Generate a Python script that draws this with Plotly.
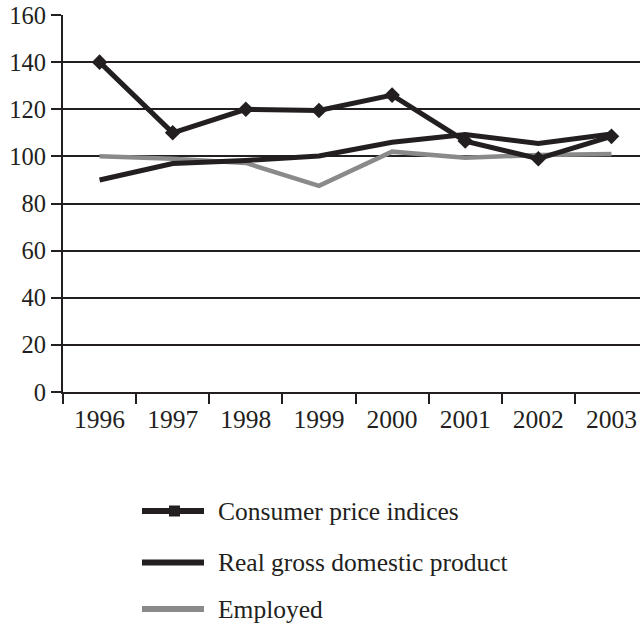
import plotly.graph_objects as go

years = ["1996", "1997", "1998", "1999", "2000", "2001", "2002", "2003"]
cpi = [140, 110, 120, 119.5, 126, 106.5, 99, 108.5]
gdp = [90, 97, 98.3, 100.2, 106, 109.3, 105.5, 109.5]
employed = [100, 99, 97.2, 87.5, 102, 99.4, 100.6, 101]

DARK = "#231f20"
GRAY = "#8a8a8a"
FONT = "Liberation Serif"

fig = go.Figure()
fig.add_trace(go.Scatter(x=years, y=employed, mode="lines",
                         line=dict(color=GRAY, width=4.5), name="Employed"))
fig.add_trace(go.Scatter(x=years, y=gdp, mode="lines",
                         line=dict(color=DARK, width=5), name="Real gross domestic product"))
fig.add_trace(go.Scatter(x=years, y=cpi, mode="lines+markers",
                         line=dict(color=DARK, width=5),
                         marker=dict(symbol="diamond", size=12, color=DARK),
                         name="Consumer price indices"))

L, T, B = 63, 15, 234
W, H = 640, 626
pw = W - L
ph = H - T - B

def px(x):
    return (x - L) / pw

def py(y):
    return (H - B - y) / ph

legend_items = [
    ("Consumer price indices", DARK, 511, True),
    ("Real gross domestic product", DARK, 562.5, False),
    ("Employed", GRAY, 609, False),
]
shapes = []
annotations = []
for text, color, yy, marker in legend_items:
    shapes.append(dict(type="line", xref="paper", yref="paper",
                       x0=px(142), x1=px(204), y0=py(yy), y1=py(yy),
                       line=dict(color=color, width=6)))
    if marker:
        shapes.append(dict(type="rect", xref="paper", yref="paper",
                           x0=px(169), x1=px(180), y0=py(yy + 5.5), y1=py(yy - 5.5),
                           fillcolor=color, line=dict(width=0)))
    annotations.append(dict(text=text, xref="paper", yref="paper",
                            x=px(216), y=py(yy), xanchor="left", yanchor="middle",
                            showarrow=False, font=dict(family=FONT, size=25.5, color="#231f20")))

fig.update_layout(
    width=W, height=H,
    margin=dict(l=L, r=0, t=T, b=B),
    paper_bgcolor="white", plot_bgcolor="white",
    showlegend=False,
    font=dict(family=FONT, size=24, color="#231f20"),
    shapes=shapes, annotations=annotations,
    xaxis=dict(type="category", range=[-0.5, 7.39], tickson="boundaries",
               showgrid=False, showline=True, linecolor=DARK, linewidth=2,
               ticks="outside", ticklen=10, tickwidth=2, tickcolor=DARK,
               ticklabelstandoff=3,
               tickfont=dict(family=FONT, size=25.5, color="#231f20")),
    yaxis=dict(range=[0, 160], tickvals=[0, 20, 40, 60, 80, 100, 120, 140, 160],
               showgrid=True, gridcolor=DARK, gridwidth=2, zeroline=False,
               showline=True, linecolor=DARK, linewidth=2,
               ticks="outside", ticklen=10, tickwidth=2, tickcolor=DARK,
               tickfont=dict(family=FONT, size=24.5, color="#231f20")),
)

fig.write_html("out.html")
